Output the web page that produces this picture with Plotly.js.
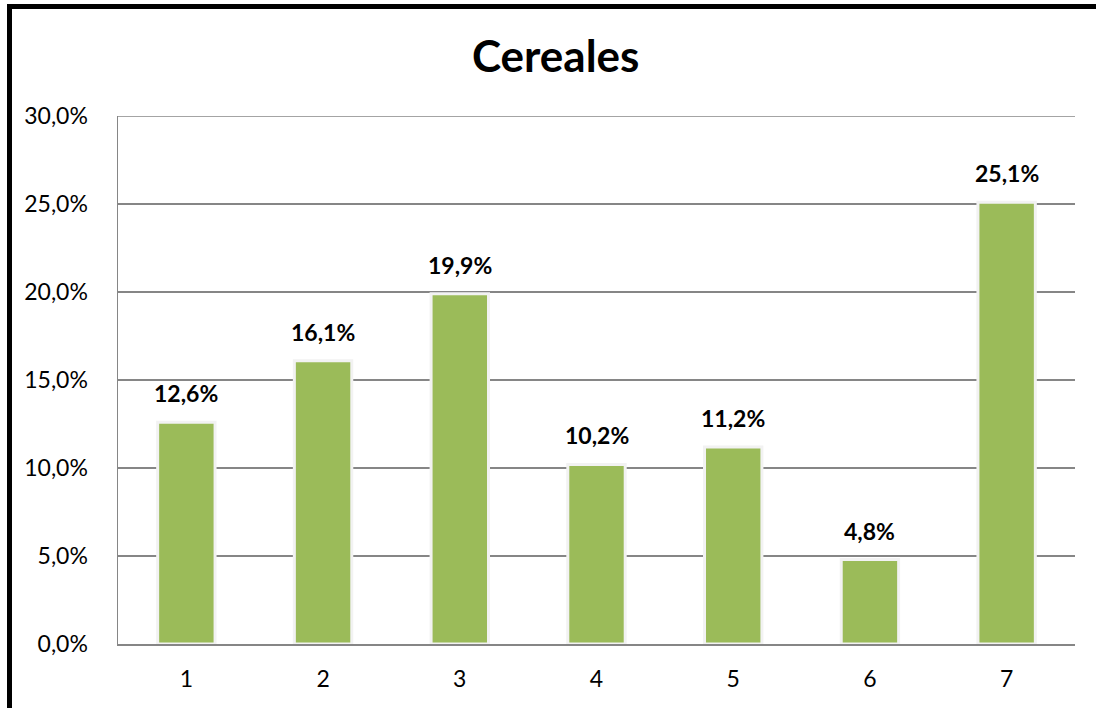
<!DOCTYPE html>
<html>
<head>
<meta charset="utf-8">
<script src="https://cdn.plot.ly/plotly-3.0.1.min.js"></script>
<style>
html,body{margin:0;padding:0;background:#fff;}
#chart{width:1096px;height:708px;}
</style>
</head>
<body>
<div id="chart"></div>
<script>
var categories = ["1", "2", "3", "4", "5", "6", "7"];
var values = [0.126, 0.161, 0.199, 0.102, 0.112, 0.048, 0.251];
var yTicks = [0, 0.05, 0.10, 0.15, 0.20, 0.25, 0.30];
var chartTitle = "Cereales";

var trace = {
  type: "bar",
  x: categories,
  y: values,
  marker: {color: "#9BBB59", line: {color: "#f2f2f2", width: 3}},
  hoverinfo: "none"
};

var annotations = categories.map(function (c, i) {
  return {
    x: i, y: values[i], xref: "x", yref: "y",
    text: (values[i] * 100).toFixed(1).replace(".", ",") + "%",
    showarrow: false, yanchor: "bottom", yshift: 13,
    font: {family: "Lato", size: 23, color: "#000", weight: 700}
  };
});

var W = 1096, H = 708, L = 118, R = 21, T = 116, B = 64;
var pw = W - L - R, ph = H - T - B;
function px(x) { return (x - L) / pw; }
function py(y) { return (H - B - y) / ph; }

var layout = {
  width: W, height: H,
  margin: {l: L, r: R, t: T, b: B, pad: 0},
  paper_bgcolor: "#fff", plot_bgcolor: "#fff",
  separators: ",.",
  bargap: 0.58,
  showlegend: false,
  title: {
    text: "<b>" + chartTitle + "</b>",
    font: {family: "Lato", size: 44, color: "#000"},
    x: 0.507, xanchor: "center", xref: "container",
    y: (H - 57) / H, yanchor: "middle", yref: "container"
  },
  xaxis: {
    type: "category",
    range: [-0.5, categories.length - 0.5],
    showline: true, linecolor: "#868686", linewidth: 1.5,
    showgrid: false, zeroline: false, ticks: "",
    ticklabelstandoff: 14,
    tickfont: {family: "Lato", size: 23, color: "#000"}
  },
  yaxis: {
    range: [0, 0.30],
    tickvals: yTicks, tickformat: ".1%",
    showline: true, linecolor: "#868686", linewidth: 1.5,
    showgrid: true, gridcolor: "#868686", gridwidth: 1.2,
    zeroline: false, ticks: "",
    ticklabelstandoff: 24,
    tickfont: {family: "Lato", size: 23, color: "#000"}
  },
  shapes: [
    {type: "line", xref: "paper", yref: "y", x0: 0, x1: 1, y0: yTicks[yTicks.length - 1], y1: yTicks[yTicks.length - 1], line: {color: "#868686", width: 1.6}, layer: "above"},
    {type: "line", xref: "paper", yref: "paper", x0: px(9.5), x1: px(9.5), y0: py(4), y1: py(720), line: {color: "#000", width: 5}},
    {type: "line", xref: "paper", yref: "paper", x0: px(7), x1: px(1110), y0: py(6.5), y1: py(6.5), line: {color: "#000", width: 5}}
  ],
  annotations: annotations
};

Plotly.newPlot("chart", [trace], layout, {displayModeBar: false, staticPlot: true});
</script>
</body>
</html>
